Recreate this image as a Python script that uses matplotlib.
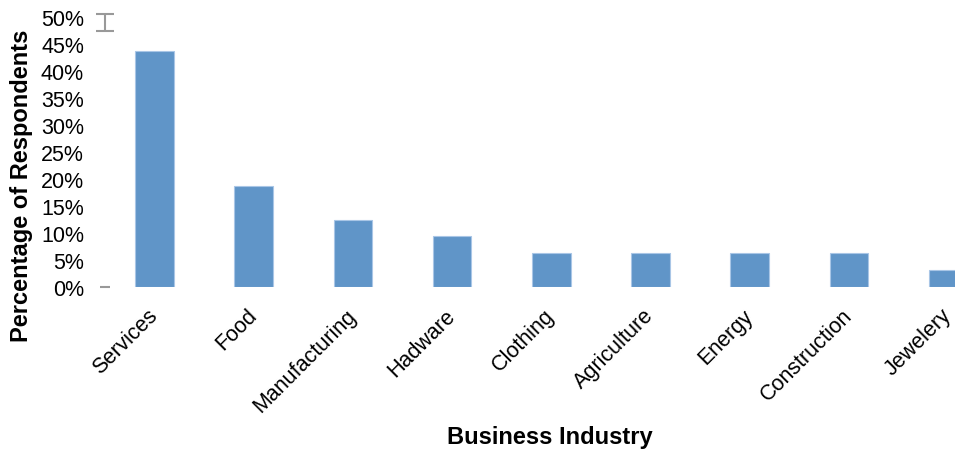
import matplotlib.pyplot as plt

plt.rcParams['font.family'] = ['Liberation Sans', 'DejaVu Sans']

industries = ['Services', 'Food', 'Manufacturing', 'Hadware', 'Clothing',
              'Agriculture', 'Energy', 'Construction', 'Jewelery']
share = [0.4375, 0.1875, 0.125, 0.09375, 0.0625, 0.0625, 0.0625, 0.0625, 0.03125]
yticks = [0, 0.05, 0.10, 0.15, 0.20, 0.25, 0.30, 0.35, 0.40, 0.45, 0.50]

# stray legend-like marks sitting left of the first bar
err_mark = 0.49
err_half = 0.015

fig = plt.figure(figsize=(9.55, 4.52), dpi=100)
ax = fig.add_axes([95 / 955, (452 - 288) / 452, 1 - 95 / 955, (288 - 18) / 452])

x = list(range(len(industries)))
ax.bar(x, share, width=0.39, color='#6095c8', edgecolor='#a9c6e6', linewidth=0.8)

ax.errorbar([-0.5], [err_mark], yerr=[err_half], fmt='none', ecolor='#999999',
            elinewidth=1.5, capsize=6.5, capthick=1.5, clip_on=False)
ax.plot([-0.5], [0], marker='_', color='#999999', markersize=7, mew=1.5, clip_on=False)

ax.set_xlim(-0.6, 8.07)
ax.set_ylim(0, 0.5)
ax.set_yticks(yticks)
ax.set_yticklabels(['{:.0f}%'.format(v * 100) for v in yticks], fontsize=15.5)
ax.set_xticks(x)
ax.set_xticklabels(industries, fontsize=15.5, rotation=45, ha='right', va='center',
                   rotation_mode='anchor')
ax.tick_params(length=0)
ax.tick_params(axis='x', pad=18)
ax.tick_params(axis='y', pad=8)
for s in ax.spines.values():
    s.set_visible(False)

fig.text(22 / 955, 1 - 186 / 452, 'Percentage of Respondents', fontsize=17,
         fontweight='bold', rotation=90, ha='center', va='center')
fig.text(550 / 955, 1 - 438 / 452, 'Business Industry', fontsize=17, fontweight='bold',
         ha='center', va='center')

fig.savefig('out.png', dpi=100)
